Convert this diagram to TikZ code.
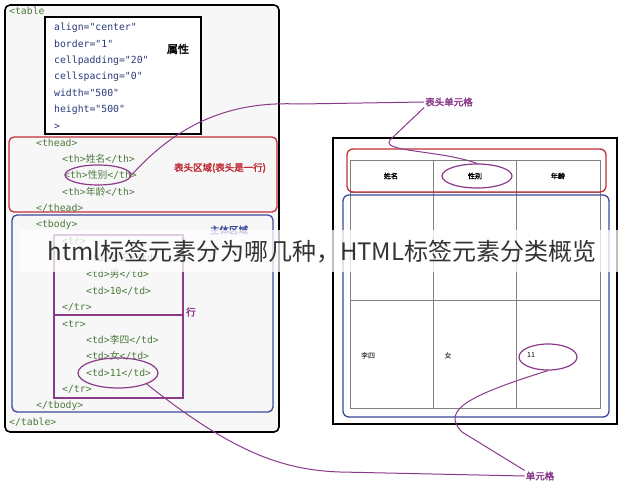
\documentclass[tikz,border=0pt]{standalone}
\usepackage{fontspec}
\setmonofont{DejaVu Sans Mono}
\newfontfamily\cjk{Noto Sans CJK SC}
\newfontfamily\cjkb[AutoFakeBold=2.5]{Noto Sans CJK SC}
\definecolor{codeg}{HTML}{4C7A3C}
\definecolor{codeb}{HTML}{2B3A7C}
\definecolor{hred}{HTML}{C0303A}
\definecolor{hblue}{HTML}{3C4A9A}
\definecolor{hpur}{HTML}{8A3A8A}
\tikzset{
 code/.style={anchor=west,font=\ttfamily\fontsize{9.8}{11}\selectfont,text=codeg,inner sep=0},
 attr/.style={code,text=codeb},
 lab/.style={font=\cjkb\bfseries\fontsize{9.5}{10}\selectfont,inner sep=1},
 ring/.style={draw=hpur,line width=1.2pt,ellipse},
 link/.style={draw=hpur,line width=1pt},
 cell/.style={font=\cjk\fontsize{7}{8}\selectfont},
 hcell/.style={font=\cjkb\bfseries\fontsize{7}{8}\selectfont}
}
\usetikzlibrary{shapes.geometric}
\begin{document}
\begin{tikzpicture}[x=1pt,y=-1pt]
\useasboundingbox (0,0) rectangle (643,490);
\fill[white] (0,0) rectangle (643,490);
% left panel
\draw[line width=1.6pt,rounded corners=5,fill=gray!6] (5,5) rectangle (279,432);
\node[code] (t0) at (9,11) {<table};
\draw[line width=1.4pt,fill=white] (45,17) rectangle (201,134);
\node[attr] (a1) at (54,28) {align="center"};
\node[attr] (a2) at (54,44) {border="1"};
\node[attr] (a3) at (54,61) {cellpadding="20"};
\node[attr] (a4) at (54,77) {cellspacing="0"};
\node[attr] (a5) at (54,93) {width="500"};
\node[attr] (a6) at (54,110) {height="500"};
\node[attr] (a7) at (54,127) {>};
\node[lab,font=\cjkb\bfseries\fontsize{11}{12}\selectfont] (sx) at (178,49) {属性};
\draw[hred,line width=1.3pt,rounded corners=5] (9,137) rectangle (277,212);
\node[code] (th0) at (36,143) {<thead>};
\node[code] (th1) at (62,159) {<th>{\cjk 姓名}</th>};
\node[code] (th2) at (64,175) {<th>{\cjk 性别}</th>};
\node[code] (th3) at (62,192) {<th>{\cjk 年龄}</th>};
\node[code] (th4) at (36,208) {</thead>};
\node[lab,text=hred] (hl) at (220,168) {表头区域(表头是一行)};
\node[ring,minimum width=66,minimum height=20] (e1) at (98,175) {};
\draw[hblue,line width=1.3pt,rounded corners=5] (12,215) rectangle (273,412);
\node[code] (tb0) at (36,225) {<tbody>};
\node[lab,text=hblue] (zt) at (229,230) {主体区域};
\draw[hpur,line width=1.2pt] (54,235) rectangle (183,315) (54,315) rectangle (183,398);
\node[lab,text=hpur] (hang) at (191,312) {行};
\node[code] (r1) at (62,241) {<tr>};
\node[code] (r2) at (86,258) {<td>{\cjk 张三}</td>};
\node[code] (r3) at (86,274) {<td>{\cjk 男}</td>};
\node[code] (r4) at (86,291) {<td>10</td>};
\node[code] (r5) at (62,307) {</tr>};
\node[code] (r6) at (62,324) {<tr>};
\node[code] (r7) at (86,340) {<td>{\cjk 李四}</td>};
\node[code] (r8) at (86,356) {<td>{\cjk 女}</td>};
\node[code] (r9) at (86,373) {<td>11</td>};
\node[code] (r10) at (62,389) {</tr>};
\node[code] (r11) at (36,406) {</tbody>};
\node[code] (r12) at (9,422) {</table>};
\node[ring,minimum width=80,minimum height=30] (e2) at (118,373) {};
% right table
\draw[line width=2pt] (333,138) rectangle (617,424);
\draw[gray,line width=0.7pt] (350,160) rectangle (600,408);
\draw[gray,line width=0.7pt] (433,160) -- (433,408) (516,160) -- (516,408)
  (350,192) -- (600,192) (350,300) -- (600,300);
\node[hcell] (h1) at (391,176) {姓名};
\node[hcell] (h2) at (475,176) {性别};
\node[hcell] (h3) at (558,176) {年龄};
\node[cell] (c1) at (368,356) {李四};
\node[cell] (c2) at (448,356) {女};
\node[cell] (c3) at (531,355) {11};
\draw[hred,line width=1.3pt,rounded corners=6] (347,149) rectangle (606,192);
\draw[hblue,line width=1.3pt,rounded corners=6] (343,195) rectangle (609,417);
\node[ring,minimum width=70,minimum height=24] (e3) at (477,176) {};
\node[ring,minimum width=58,minimum height=26] (e4) at (548,357) {};
\node[lab,text=hpur] (l1) at (449,102) {表头单元格};
\node[lab,text=hpur] (l2) at (540,476) {单元格};
% connectors
\draw[link] (e1.east) .. controls (190,110) and (250,102) .. (300,104) -- (l1.west);
\draw[link] (l1.south west) -- (390,140) .. controls (380,152) and (440,150) .. (e3.north);
\draw[link] (e2.south east) .. controls (230,450) and (280,470) .. (340,472) -- (l2.west);
\draw[link] (l2.north west) -- (462,432) .. controls (440,410) and (470,395) .. (e4.south);
% banner
\fill[white,opacity=0.75] (20,230) rectangle (628,272);
\node[font=\cjk\fontsize{24}{26}\selectfont,text=black!80] (ban) at (322,252) {html标签元素分为哪几种，HTML标签元素分类概览};
\end{tikzpicture}
\end{document}
